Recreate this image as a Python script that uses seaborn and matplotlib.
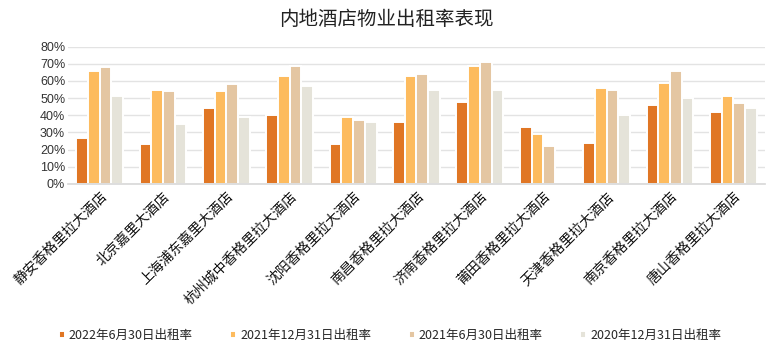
import matplotlib
matplotlib.use("Agg")
import matplotlib.pyplot as plt
import seaborn as sns
import pandas as pd
from matplotlib.ticker import PercentFormatter, MultipleLocator

hotels = ["静安香格里拉大酒店", "北京嘉里大酒店", "上海浦东嘉里大酒店", "杭州城中香格里拉大酒店",
          "沈阳香格里拉大酒店", "南昌香格里拉大酒店", "济南香格里拉大酒店", "莆田香格里拉大酒店",
          "天津香格里拉大酒店", "南京香格里拉大酒店", "唐山香格里拉大酒店"]
series = ["2022年6月30日出租率", "2021年12月31日出租率", "2021年6月30日出租率", "2020年12月31日出租率"]
v2022_06 = [27, 23, 44, 40, 23, 36, 48, 33, 24, 46, 42]
v2021_12 = [66, 55, 54, 63, 39, 63, 69, 29, 56, 59, 51]
v2021_06 = [68, 54, 58, 69, 37, 64, 71, 22, 55, 66, 47]
v2020_12 = [51, 35, 39, 57, 36, 55, 55, 0, 40, 50, 44]
colors = ["#E07624", "#FDBB5E", "#E4C6A2", "#E5E3D9"]

rows = []
for s, vals in zip(series, [v2022_06, v2021_12, v2021_06, v2020_12]):
    for h, v in zip(hotels, vals):
        rows.append({"hotel": h, "series": s, "value": v / 100})
df = pd.DataFrame(rows)

sns.set_theme(style="white")
plt.rcParams['font.family'] = ['Noto Sans CJK SC', 'DejaVu Sans']

fig = plt.figure(figsize=(7.72, 3.51), dpi=100)
ax = fig.add_axes([0.088, 0.476, 0.903, 0.391])
sns.barplot(data=df, x="hotel", y="value", hue="series", palette=colors, saturation=1,
            width=0.74, edgecolor="white", linewidth=1.4, ax=ax, legend=True)
ax.set_ylim(0, 0.8)
ax.yaxis.set_major_locator(MultipleLocator(0.1))
ax.yaxis.set_major_formatter(PercentFormatter(1.0, decimals=0))
ax.grid(axis="y", color="#E3E3E3", linewidth=1)
ax.set_axisbelow(True)
for sp in ["top", "right", "left"]:
    ax.spines[sp].set_visible(False)
ax.spines["bottom"].set_color("#D9D9D9")
ax.set_xlabel("")
ax.set_ylabel("")
ax.tick_params(axis="y", labelsize=9, pad=2, length=0, labelcolor="#333333")
for t in ax.get_yticklabels():
    t.set_family(["Liberation Sans", "DejaVu Sans"])
ax.tick_params(axis="x", length=0, pad=4)
plt.setp(ax.get_xticklabels(), rotation=45, ha="right", rotation_mode="anchor",
         fontsize=10, color="#111111")
ax.set_xlim(-0.5, len(hotels) - 0.5)

ax.get_legend().remove()
handles, labels = ax.get_legend_handles_labels()
fig.legend(handles[:4], labels[:4], loc="center", bbox_to_anchor=(0.505, 0.045), ncol=4,
           frameon=False, fontsize=9, handlelength=0.5, handleheight=0.5,
           handletextpad=0.3, columnspacing=3.0)
fig.suptitle("内地酒店物业出租率表现", y=0.975, fontsize=14, color="#222222")
fig.savefig("out.png", dpi=100)
